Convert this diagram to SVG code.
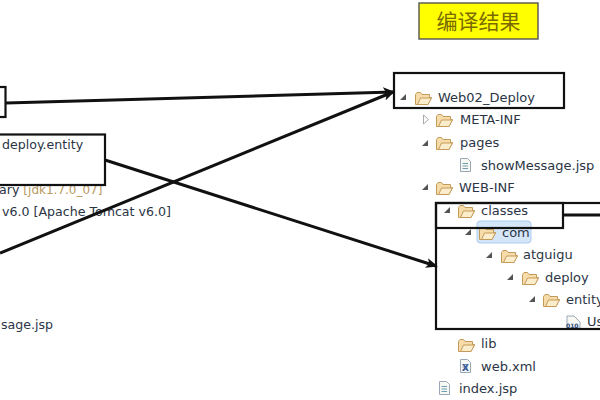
<svg xmlns="http://www.w3.org/2000/svg" width="600" height="400" viewBox="0 0 600 400">
  <style>
    .t { font-family: "DejaVu Sans", "Liberation Sans", sans-serif; font-size: 13px; fill: #2b3545; }
    .s { font-size: 12.6px; }
    .lib { fill: #b99a62; font-size: 12px; }
    .box { fill: none; stroke: #111; stroke-width: 2.2; }
    .wire { fill: none; stroke: #111; stroke-width: 3; }
    .open { fill: #555; }
    .closed { fill: #fff; stroke: #aaa; stroke-width: 1; }
  </style>
  <defs>
    <marker id="head" markerWidth="12" markerHeight="10" refX="10" refY="5" orient="auto" markerUnits="userSpaceOnUse" viewBox="0 0 12 10">
      <path d="M0 0L12 5L0 10L3 5Z" fill="#111"/>
    </marker>
    <g id="folder">
      <path d="M0.5 3.5V13.5H13L16.5 6.500H14.500V3.5H7L5.5 1.500H2Z" fill="#f6dcaa" stroke="#c49a58"/>
      <path d="M2.5 13.500L5.500 7H16.500L13 13.500Z" fill="#fbeccb" stroke="#c49a58"/>
    </g>
    <path id="tri" d="M6 0V6H0Z" class="open"/>
    <g id="page">
      <path d="M0.500 0.500H7.500L10.500 3.500V13.500H0.500Z" fill="#f7f7f4" stroke="#9aa7b5"/>
      <path d="M2.500 5.500H8M2.500 8H8M2.500 10.500H8" stroke="#6d9db0"/>
    </g>
  </defs>

  <g id="title">
    <rect x="419" y="3" width="119" height="36" fill="#ffff00" stroke="#555" stroke-width="1.400"/>
    <text x="478.500" y="29" text-anchor="middle" font-family="'Noto Sans CJK SC', sans-serif" font-size="21" fill="#7a6a00">编译结果</text>
  </g>

  <g id="source-tree">
    <text class="t s" x="2" y="149">deploy.entity</text>
    <text class="t s" x="-1" y="194">ary <tspan class="lib">[jdk1.7.0_07]</tspan></text>
    <text class="t s" x="2" y="216">v6.0 [Apache Tomcat v6.0]</text>
    <text class="t s" x="1" y="329">sage.jsp</text>
  </g>

  <g id="output-tree">
    <use href="#tri" x="400" y="94"/>
    <use href="#folder" x="415" y="91"/>
    <text class="t" x="438" y="102">Web02_Deploy</text>

    <path class="closed" d="M423.500 115L428.500 119.500L423.500 124Z"/>
    <use href="#folder" x="436" y="113"/>
    <text class="t" x="460" y="124">META-INF</text>

    <use href="#tri" x="422" y="140"/>
    <use href="#folder" x="436" y="136"/>
    <text class="t" x="460" y="147">pages</text>

    <use href="#page" x="460" y="158"/>
    <text class="t" x="481" y="170">showMessage.jsp</text>

    <use href="#tri" x="422" y="184"/>
    <use href="#folder" x="436" y="181"/>
    <text class="t" x="459" y="192">WEB-INF</text>

    <use href="#tri" x="444" y="207"/>
    <use href="#folder" x="458" y="204"/>
    <text class="t" x="481" y="215">classes</text>

    <rect x="477" y="221" width="54" height="22" rx="3" fill="#d5e6f8" stroke="#a9cdf0"/>
    <use href="#tri" x="465" y="229"/>
    <use href="#folder" x="479" y="226"/>
    <text class="t" x="502" y="237">com</text>

    <use href="#tri" x="486" y="252"/>
    <use href="#folder" x="501" y="249"/>
    <text class="t" x="523" y="259">atguigu</text>

    <use href="#tri" x="507" y="274"/>
    <use href="#folder" x="522" y="271"/>
    <text class="t" x="545" y="282">deploy</text>

    <use href="#tri" x="529" y="296"/>
    <use href="#folder" x="543" y="293"/>
    <text class="t" x="566" y="304">entity</text>

    <g id="user-class">
      <path d="M567 316H574L580 322V328H567Z" fill="#f7f7f4" stroke="#9aa7b5"/>
      <text x="566" y="328" font-family="'DejaVu Sans', sans-serif" font-size="6" font-weight="bold" fill="#2a4a7a">010</text>
    </g>
    <text class="t" x="587" y="326">Us</text>

    <use href="#folder" x="458" y="338"/>
    <text class="t" x="481" y="348">lib</text>

    <use href="#page" x="460" y="359"/>
    <text x="462" y="371" font-family="'DejaVu Sans', sans-serif" font-size="9" font-weight="bold" fill="#3a5a9a">X</text>
    <text class="t" x="481" y="371">web.xml</text>

    <use href="#page" x="439" y="381"/>
    <text class="t" x="459" y="393">index.jsp</text>
  </g>

  <g id="outlines">
    <rect class="box" x="-3" y="87" width="8.500" height="30"/>
    <rect class="box" x="-3" y="134.500" width="108" height="50.500"/>
    <rect class="box" x="394" y="73" width="170" height="35"/>
    <rect class="box" x="436" y="203" width="170" height="126"/>
    <rect class="box" x="436" y="203" width="127" height="25"/>
  </g>

  <g id="connectors">
    <path class="wire" marker-end="url(#head)" d="M6 103L393 92"/>
    <path class="wire" marker-end="url(#head)" d="M0 253L393 92"/>
    <path class="wire" marker-end="url(#head)" d="M105 160L436 266"/>
    <path class="wire" d="M563 215H600"/>
  </g>
</svg>
